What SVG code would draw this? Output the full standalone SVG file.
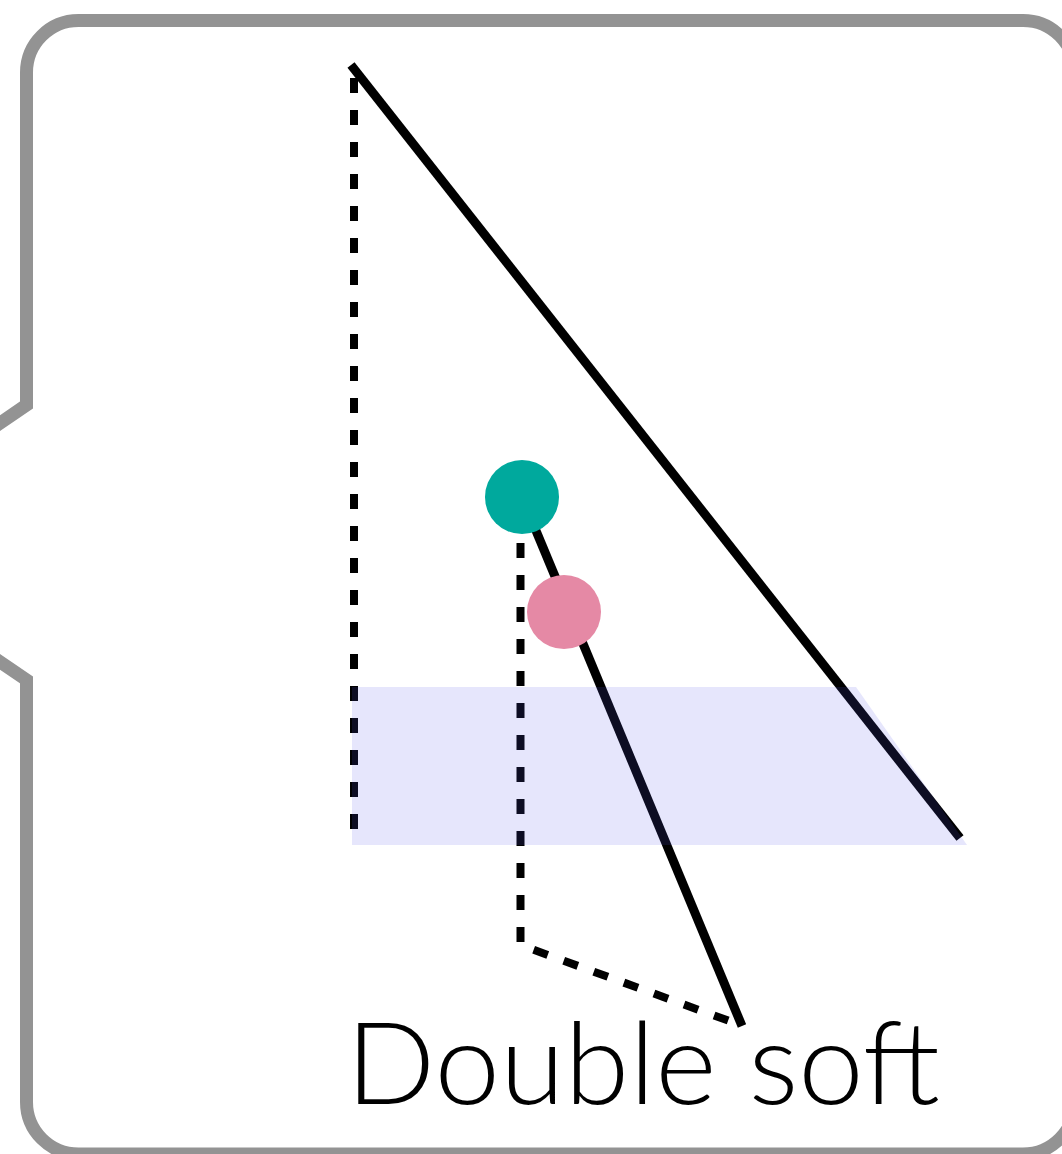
<svg xmlns="http://www.w3.org/2000/svg" width="1062" height="1154" viewBox="0 0 1062 1154">
<style>
.frame{fill:#fff;stroke:#939393;stroke-width:13;stroke-linejoin:miter}
.solid{fill:none;stroke:#000;stroke-width:9}
.dash{fill:none;stroke:#000;stroke-width:8;stroke-dasharray:15 17}
.band{fill:#5757eb;fill-opacity:0.15}
.lbl{font-family:Lato,"Liberation Sans",Arial,sans-serif;font-weight:300;font-size:114px;fill:#000}
</style>
<g id="frame">
<path class="frame" d="M78.5 20.5 H1023 A52 52 0 0 1 1075 72.5 V1102 A52 52 0 0 1 1023 1154 H78.5 A52 52 0 0 1 26.5 1102 V680 L-175 542 L26.5 405 V72.5 A52 52 0 0 1 78.5 20.5 Z"/>
</g>
<g id="connectors">
<path class="solid" d="M351 65 L960 838"/>
<path class="dash" d="M354 78 V830"/>
<path class="dash" d="M520.5 543 V945 L743 1026"/>
<path class="solid" d="M522 497 L742 1026"/>
</g>
<g id="band">
<rect class="band" x="352" y="687" width="500" height="158"/>
<polygon class="band" points="852,687 856,687 967,845 852,845"/>
</g>
<g id="node-teal"><circle cx="522" cy="497" r="37" fill="#00a99d"/></g>
<g id="node-pink"><circle cx="564" cy="612" r="37" fill="#e589a5"/></g>
<g id="label"><text class="lbl" x="346" y="1104" textLength="594" lengthAdjust="spacingAndGlyphs">Double soft</text></g>
</svg>
